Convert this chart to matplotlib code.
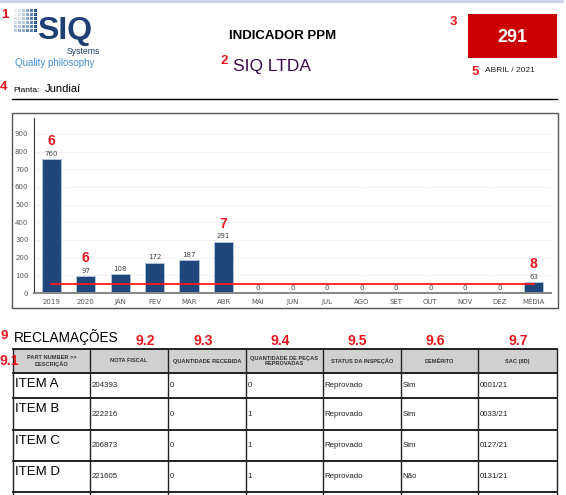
import matplotlib
matplotlib.use("Agg")
from matplotlib import pyplot as plt
from matplotlib.patches import Rectangle
import numpy as np

W, H = 566, 495

# chart data
months = ["2019", "2020", "JAN", "FEV", "MAR", "ABR", "MAI", "JUN", "JUL",
          "AGO", "SET", "OUT", "NOV", "DEZ", "MÉDIA"]
ppm = [760, 97, 108, 172, 187, 291, 0, 0, 0, 0, 0, 0, 0, 0, 63]
meta = 50
callouts = {0: "6", 1: "6", 5: "7", 14: "8"}

# table data
headers = ["PART NUMBER >>\nDESCRIÇÃO", "NOTA FISCAL", "QUANTIDADE RECEBIDA",
           "QUANTIDADE DE PEÇAS\nREPROVADAS", "STATUS DA INSPEÇÃO", "DEMÉRITO", "SAC (8D)"]
col_tags = ["9.1", "9.2", "9.3", "9.4", "9.5", "9.6", "9.7"]
items = ["ITEM A", "ITEM B", "ITEM C", "ITEM D"]
nota_fiscal = ["204393", "222216", "206873", "221605"]
qtd_recebida = ["0", "0", "0", "0"]
qtd_reprovada = ["0", "1", "1", "1"]
status = ["Reprovado", "Reprovado", "Reprovado", "Reprovado"]
demerito = ["Sim", "Sim", "Sim", "Não"]
sac = ["0001/21", "0033/21", "0127/21", "0131/21"]

RED = "#e8141c"
ARIAL = "Liberation Sans"

fig = plt.figure(figsize=(W / 100, H / 100), dpi=100)
# page overlay in pixel coordinates
pg = fig.add_axes([0, 0, 1, 1])
pg.set_xlim(0, W)
pg.set_ylim(H, 0)
pg.axis("off")

pg.plot([0, 562], [1, 1], color="#c9d2e3", lw=2)

# logo
shades = ["#eef2f7", "#d8e2ee", "#b9cbe2", "#8eabd1", "#5c83ba", "#2b5592"]
for i in range(6):
    for j in range(6):
        c = shades[min(5, max(i, (i + j) // 2))]
        pg.add_patch(Rectangle((14 + i * 4, 9 + j * 4), 3.3, 3.3, color=c, lw=0))
pg.text(37, 39, "SIQ", fontsize=23, fontweight="bold", color="#1d3f73",
        family=ARIAL, va="baseline")
pg.text(100, 54, "Systems", fontsize=6.2, color="#1d3f73", family=ARIAL,
        ha="right", va="baseline")
pg.text(15, 66, "Quality philosophy", fontsize=7, color="#3f8fd6",
        family=ARIAL, va="baseline")

pg.text(283, 36, "INDICADOR PPM", fontsize=9.5, fontweight="bold", family=ARIAL,
        ha="center", va="center")
pg.text(233, 67, "SIQ LTDA", fontsize=12.5, color="#3a0a4a", family=ARIAL,
        va="center")
pg.add_patch(Rectangle((468, 14), 89, 44, color="#cc0000", lw=0))
pg.text(512, 38, "291", fontsize=13, fontweight="bold", color="white",
        family=ARIAL, ha="center", va="center")
pg.text(485, 71, "ABRIL / 2021", fontsize=6, family=ARIAL, color="#222222",
        va="center")
pg.text(13, 91, "Planta:", fontsize=6, family=ARIAL, va="center")
pg.text(45, 89, "Jundiaí", fontsize=8, family=ARIAL, va="center")
pg.plot([12, 557], [99, 99], color="black", lw=1)

for x, y, s in [(5, 15, "1"), (224, 61, "2"), (453, 22, "3"), (4, 87, "4"),
                (475, 72, "5")]:
    pg.text(x, y, s, color=RED, fontsize=9.5, fontweight="bold", family=ARIAL,
            ha="center", va="center")

# chart frame
pg.add_patch(Rectangle((12, 113), 546, 195, fill=False, ec="#555555", lw=1))

ax = fig.add_axes([34 / W, 1 - 293 / H, 517 / W, 175 / H])
x = np.arange(len(months))
ax.bar(x, ppm, width=0.56, color="#1f477b", edgecolor="#b8c8de", lw=0.6, zorder=2)
ax.plot([x[0], x[-1]], [meta, meta], color="#ff1a1a", lw=1.3, zorder=3)
for xi, v in zip(x, ppm):
    ax.text(xi, v + 12, str(v), ha="center", va="bottom", fontsize=5,
            color="#444444")
for k, s in callouts.items():
    ax.text(k, ppm[k] + 62, s, ha="center", va="bottom", fontsize=10,
            fontweight="bold", color=RED, family=ARIAL)
ax.set_xlim(-0.5, 14.5)
ax.set_ylim(0, 990)
ax.set_yticks(range(0, 1000, 100))
ax.set_xticks(x)
ax.set_xticklabels(months)
ax.tick_params(labelsize=5, colors="#555555", length=0, pad=4)
ax.grid(axis="y", color="#dddddd", ls=":", lw=0.6, zorder=0)
for s in ["top", "right"]:
    ax.spines[s].set_visible(False)
ax.spines["left"].set_color("#333333")
ax.spines["left"].set_linewidth(0.8)
ax.spines["bottom"].set_color("#8a8a8a")
ax.spines["bottom"].set_linewidth(1.5)
ax.patch.set_alpha(0)

# table
pg.text(4, 336, "9", color=RED, fontsize=9.5, fontweight="bold", family=ARIAL,
        ha="center", va="center")
pg.text(14, 337, "RECLAMAÇÕES", fontsize=9.8, family=ARIAL, va="center")
xs = [13, 90, 168, 246, 323, 401, 478, 557]
ys = [349, 373, 398, 430, 461, 492]
tag_pos = [(9, 361), (145, 341), (203, 341), (280, 341), (357, 341),
           (435, 341), (518, 341)]
pg.add_patch(Rectangle((xs[0], ys[0]), xs[-1] - xs[0], ys[1] - ys[0],
                       color="#d0d0d0", lw=0))
for i, h in enumerate(headers):
    cx = (xs[i] + xs[i + 1]) / 2
    pg.text(cx, (ys[0] + ys[1]) / 2, h, fontsize=4.1, fontweight="bold",
            family=ARIAL, ha="center", va="center", color="#333333",
            linespacing=1.1)
    pg.text(*tag_pos[i], col_tags[i], color=RED, fontsize=10,
            fontweight="bold", family=ARIAL, ha="center", va="center")
for y in ys:
    pg.plot([xs[0], xs[-1]], [y, y], color="#111111", lw=1.3)
for xv in xs:
    pg.plot([xv, xv], [ys[0], H], color="#222222", lw=1)

rows = zip(items, nota_fiscal, qtd_recebida, qtd_reprovada, status, demerito, sac)
for r, vals in enumerate(rows):
    y0, y1 = ys[r + 1], ys[r + 2]
    pg.text(xs[0] + 2, y0 + 11, vals[0], fontsize=9.5, family=ARIAL,
            va="center")
    for c in range(1, 7):
        pg.text(xs[c] + 1.5, (y0 + y1) / 2, vals[c], fontsize=5.7, family=ARIAL,
                va="center", color="#222222")

fig.savefig("out.png", dpi=100)
